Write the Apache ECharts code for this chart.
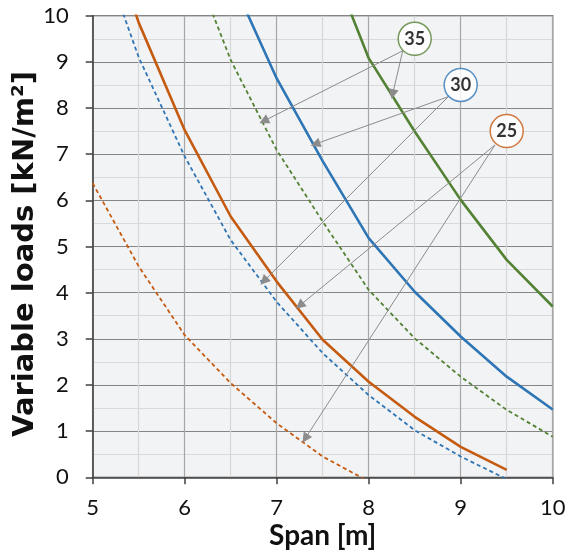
<!DOCTYPE html>
<html>
<head>
<meta charset="utf-8">
<script src="https://cdn.jsdelivr.net/npm/echarts@6/dist/echarts.min.js"></script>
<style>html,body{margin:0;padding:0;background:#fff;}#c{width:573px;height:556px;}</style>
</head>
<body>
<div id="c"></div>
<script>
const spans = [5, 5.5, 6, 6.5, 7, 7.5, 8, 8.5, 9, 9.5, 10];
const c25Solid  = [12.8, 9.85, 7.52, 5.65, 4.24, 2.98, 2.07, 1.31, 0.66, 0.16, null];
const c25Dashed = [6.37, 4.57, 3.08, 2.04, 1.17, 0.45, -0.09, null, null, null, null];
const c30Solid  = [null, null, null, 10.84, 8.64, 6.85, 5.18, 4.02, 3.05, 2.18, 1.47];
const c30Dashed = [11.9, 9.1, 6.95, 5.14, 3.8, 2.69, 1.78, 1.02, 0.45, -0.04, null];
const c35Solid  = [null, null, null, null, null, 11.6, 9.08, 7.49, 6.01, 4.71, 3.70];
const c35Dashed = [null, null, 11.6, 9.04, 7.09, 5.54, 4.06, 3.01, 2.18, 1.46, 0.88];

const xTicks = [5, 6, 7, 8, 9, 10];
const yTicks = [0, 1, 2, 3, 4, 5, 6, 7, 8, 9, 10];

const classLabels = ['35', '30', '25'];
const classX = [8.5, 9.0, 9.5];
const classY = [9.5, 8.5, 7.5];

const arrowFrom = [[8.37, 9.24], [8.37, 9.24], [8.865, 8.245], [8.865, 8.245], [9.373, 7.2], [9.373, 7.2]];
const arrowTo   = [[6.86, 7.72], [8.26, 8.30], [7.42, 7.22], [6.86, 4.25], [7.25, 3.72], [7.31, 0.84]];

const orange = '#C55A11', blue = '#2E75B6', green = '#548235';
const classColors = [green, blue, orange];

function pairs(vals) {
  const out = [];
  vals.forEach((v, i) => { if (v !== null) out.push([spans[i], v]); });
  return out;
}
function lineSeries(name, vals, color, dashed) {
  return {
    name, type: 'line', data: pairs(vals), symbol: 'none', clip: true, z: 3,
    lineStyle: dashed ? { color, width: 1.8, type: [4, 3] } : { color, width: 2.6 },
    animation: false
  };
}

const chart = echarts.init(document.getElementById('c'), null, { renderer: 'canvas' });
const font = 'Lato, "Open Sans", sans-serif';
chart.setOption({
  animation: false,
  grid: {
    left: 92.7, right: 20.3, top: 15.7, bottom: 78.7,
    containLabel: false, outerBoundsMode: 'none',
    show: true, backgroundColor: '#f2f3f4', borderColor: '#404040', borderWidth: 1.2
  },
  xAxis: {
    type: 'value', min: 5, max: 10, interval: 1,
    name: 'Span [m]', nameLocation: 'middle', nameGap: 45, nameMoveOverlap: false,
    nameTextStyle: { fontFamily: font, fontWeight: 'bold', fontSize: 28, color: '#111' },
    axisLine: { show: true, lineStyle: { color: '#404040', width: 1.5 } },
    axisTick: { show: true, length: 7, lineStyle: { color: '#404040', width: 1.5 } },
    axisLabel: { fontFamily: font, fontSize: 22, color: '#111', margin: 20,
      formatter: v => xTicks.includes(v) ? String(v) : '' },
    splitLine: { show: true, lineStyle: { color: '#a6a6a6', width: 1.2 } },
    minorTick: { show: false, splitNumber: 2 },
    minorSplitLine: { show: true, lineStyle: { color: '#d6d6d6', width: 1.2 } }
  },
  yAxis: {
    type: 'value', min: 0, max: 10, interval: 1,
    name: 'Variable loads [kN/m²]', nameLocation: 'middle', nameGap: 53, nameMoveOverlap: false,
    nameTextStyle: { fontFamily: '"DejaVu Sans", sans-serif', fontWeight: 'bold', fontSize: 29, color: '#111',
      padding: [0, 15, 0, 0] },
    axisLine: { show: true, lineStyle: { color: '#404040', width: 1.5 } },
    axisTick: { show: true, length: 7, lineStyle: { color: '#404040', width: 1.5 } },
    axisLabel: { fontFamily: font, fontSize: 22, color: '#111', margin: 24,
      formatter: v => yTicks.includes(v) ? String(v) : '' },
    splitLine: { show: true, lineStyle: { color: '#858585', width: 1.2 } },
    minorTick: { show: false, splitNumber: 2 },
    minorSplitLine: { show: true, lineStyle: { color: '#d9d9d9', width: 1.2 } }
  },
  series: [
    lineSeries('25 dashed', c25Dashed, orange, true),
    lineSeries('30 dashed', c30Dashed, blue, true),
    lineSeries('35 dashed', c35Dashed, green, true),
    lineSeries('25', c25Solid, orange, false),
    lineSeries('30', c30Solid, blue, false),
    lineSeries('35', c35Solid, green, false),
    {
      type: 'line', data: [], z: 4, silent: true,
      markLine: {
        silent: true, animation: false,
        symbol: ['none', 'triangle'], symbolSize: 10,
        label: { show: false },
        lineStyle: { color: '#8c8c8c', width: 1, type: 'solid' },
        itemStyle: { color: '#8c8c8c' },
        emphasis: { disabled: true },
        data: arrowFrom.map((f, i) => [{ coord: f }, { coord: arrowTo[i] }])
      }
    },
    {
      type: 'scatter', z: 6, silent: true,
      symbolSize: 33,
      data: classLabels.map((t, i) => ({
        value: [classX[i], classY[i]], name: t,
        itemStyle: { color: '#ffffff', borderColor: classColors[i], borderWidth: 1.5 }
      })),
      label: { show: true, position: 'inside', formatter: p => p.name,
        fontFamily: font, fontWeight: 'bold', fontSize: 18, color: '#000' }
    }
  ]
});
</script>
</body>
</html>
